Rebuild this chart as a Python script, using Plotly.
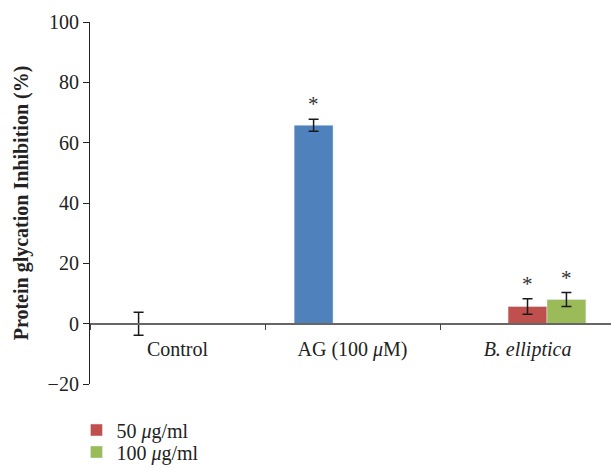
import plotly.graph_objects as go

# Groups on the category axis
categories = ["Control", "AG (100 <i>μ</i>M)", "<i>B. elliptica</i>"]

# Percent inhibition of protein glycation (mean) and error (±)
ref_values = [0.0, 65.8, None]
ref_errors = [3.8, 2.0, None]

dose50_values = [None, None, 5.7]
dose50_errors = [None, None, 2.6]

dose100_values = [None, None, 8.0]
dose100_errors = [None, None, 2.3]

legend_names = ["50 <i>μ</i>g/ml", "100 <i>μ</i>g/ml"]
significant = ["", "*", "*"]

FONT = "Liberation Serif"
BLUE, RED, GREEN = "#4F81BD", "#C0504D", "#9BBB59"

def err(arr):
    return dict(type="data", array=[e if e is not None else 0 for e in arr],
                visible=True, color="#1a1a1a", thickness=1.5, width=5)

fig = go.Figure()
fig.add_trace(go.Bar(x=categories, y=ref_values, error_y=err(ref_errors),
                     marker_color=BLUE, showlegend=False, name="ref"))
fig.add_trace(go.Bar(x=categories, y=dose50_values, error_y=err(dose50_errors),
                     marker_color=RED, name=legend_names[0], legend="legend"))
fig.add_trace(go.Bar(x=categories, y=dose100_values, error_y=err(dose100_errors),
                     marker_color=GREEN, name=legend_names[1], legend="legend2"))

# Significance markers above the error bars
for vals, errs, off in [(ref_values, ref_errors, -1), (dose50_values, dose50_errors, 0),
                        (dose100_values, dose100_errors, 1)]:
    for i, (v, e) in enumerate(zip(vals, errs)):
        if v is None or not significant[i]:
            continue
        fig.add_annotation(x=i + off * 0.2222, y=v + e, text="*", showarrow=False,
                           yanchor="bottom", yshift=1,
                           font=dict(family=FONT, size=21, color="#333333"))

legend_style = dict(x=-0.026, xanchor="left", yref="container", yanchor="middle",
                    bgcolor="rgba(0,0,0,0)",
                    font=dict(family=FONT, size=20, color="#222"), itemwidth=30)

fig.update_layout(
    width=611, height=468,
    margin=dict(l=90, r=0, t=22, b=84),
    plot_bgcolor="white", paper_bgcolor="white",
    barmode="group", bargap=0.333, bargroupgap=0,
    font=dict(family=FONT, size=19, color="#222"),
    legend=dict(y=1 - 430 / 468, **legend_style),
    legend2=dict(y=1 - 452 / 468, **legend_style),
    xaxis=dict(type="category", range=[-0.5, 2.477], anchor="free", position=1/6,
               automargin=False,
               showline=True, linecolor="#666", linewidth=1.5,
               ticks="outside", tickson="boundaries", ticklen=6, tickcolor="#444",
               ticklabelstandoff=8,
               tickfont=dict(family=FONT, size=20, color="#222"), showgrid=False),
    yaxis=dict(range=[-20, 100], tickvals=[-20, 0, 20, 40, 60, 80, 100],
               automargin=False,
               showline=True, linecolor="#222", linewidth=1.2,
               ticks="outside", ticklen=6, tickcolor="#222",
               showgrid=False, zeroline=False,
               tickfont=dict(family=FONT, size=20, color="#222"),
               title=dict(text="<b>Protein glycation Inhibition (%)</b>",
                          font=dict(family=FONT, size=20, color="#222"), standoff=13)),
)

fig.write_html("out.html")
